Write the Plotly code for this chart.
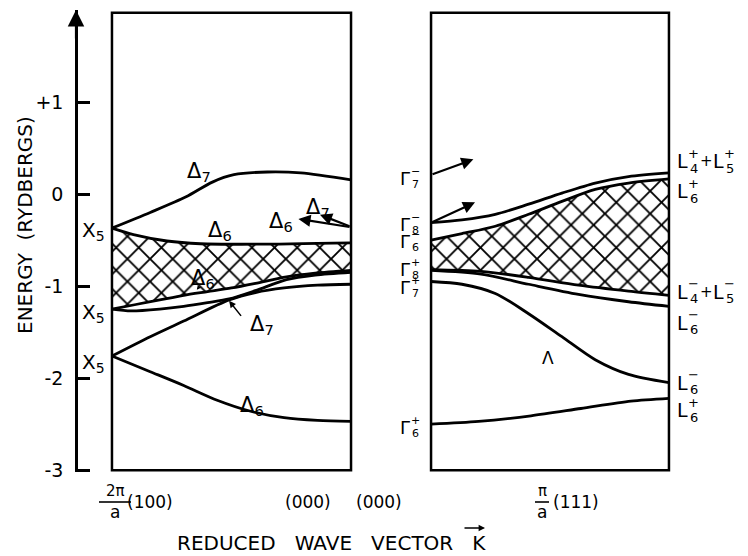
import plotly.graph_objects as go

# ---------------- data (energies in Rydbergs) ----------------
# left panel: k from X (0) to Gamma (1)
k_d7_up = [0, 0.16, 0.31, 0.42, 0.51, 0.65, 0.79, 1.0]
E_d7_up = [-0.37, -0.20, -0.03, 0.13, 0.21, 0.24, 0.23, 0.155]

k_d6_top = [0, 0.09, 0.23, 0.37, 0.6, 1.0]
E_d6_top = [-0.37, -0.44, -0.51, -0.54, -0.545, -0.53]

k_d6_mid = [0, 0.1, 0.2, 0.3, 0.4, 0.5, 0.6, 0.73, 0.85, 1.0]
E_d6_mid = [-1.25, -1.20, -1.15, -1.10, -1.06, -1.02, -0.97, -0.90, -0.86, -0.83]

k_d7_mid = [0, 0.08, 0.2, 0.3, 0.4, 0.49, 0.6, 0.73, 0.85, 1.0]
E_d7_mid = [-1.25, -1.27, -1.25, -1.22, -1.18, -1.14, -1.05, -0.93, -0.88, -0.85]

k_d7_low = [0, 0.16, 0.30, 0.49, 0.6, 0.72, 0.86, 1.0]
E_d7_low = [-1.76, -1.55, -1.38, -1.15, -1.07, -1.02, -0.99, -0.98]

k_d6_low = [0, 0.16, 0.30, 0.44, 0.58, 0.72, 0.86, 1.0]
E_d6_low = [-1.76, -1.93, -2.08, -2.24, -2.36, -2.43, -2.46, -2.47]

# right panel: k from Gamma (0) to L (1)
k_g8m = [0, 0.13, 0.27, 0.41, 0.55, 0.69, 0.83, 1.0]
E_g8m = [-0.31, -0.28, -0.22, -0.11, 0.01, 0.12, 0.19, 0.23]
E_g6m = [-0.50, -0.43, -0.35, -0.22, -0.08, 0.05, 0.12, 0.165]

k_g8p = [0, 0.21, 0.41, 0.62, 0.83, 1.0]
E_g8p_a = [-0.82, -0.84, -0.905, -0.99, -1.055, -1.10]
E_g8p_b = [-0.83, -0.87, -0.98, -1.09, -1.17, -1.22]

k_lam = [0, 0.13, 0.27, 0.41, 0.55, 0.69, 0.83, 1.0]
E_lam = [-0.95, -0.98, -1.08, -1.30, -1.55, -1.80, -1.96, -2.05]

k_g6p = [0, 0.2, 0.42, 0.63, 0.84, 1.0]
E_g6p = [-2.50, -2.47, -2.41, -2.33, -2.25, -2.22]

# arrows for bands leaving the frame (tail k, tail E, head k, head E)
arrows_left = [(1.0, -0.36, 0.78, -0.27), (1.0, -0.355, 0.87, -0.225)]
arrows_right = [(0.0, 0.21, 0.178, 0.377), (0.0, -0.31, 0.185, -0.09)]

y_ticks = [-3, -2, -1, 0, 1]
y_tick_text = ["-3", "-2", "-1", "0", "+1"]

# ---------------- figure ----------------
FONT = "DejaVu Sans"
LW = 2.8
fig = go.Figure()

# page layout helpers (plot area: page x 60..690, page y 10..472; page has 8px body margin)
def px(xp):
    return (xp - 60) / 630.0

def py(yp):
    return (472 - yp) / 462.0

def band(k, E, xa, fill=False):
    kw = dict(x=k, y=E, mode="lines", xaxis=xa, yaxis="y",
              line=dict(color="black", width=LW, shape="spline", smoothing=0.8),
              hoverinfo="skip", showlegend=False)
    if fill:
        kw.update(fill="tonexty",
                  fillpattern=dict(shape="x", size=16, solidity=0.22,
                                   fgcolor="black", bgcolor="white", fillmode="replace"))
    fig.add_trace(go.Scatter(**kw))

# left panel
band(k_d6_mid, E_d6_mid, "x")
band(k_d6_top, E_d6_top, "x", fill=True)
band(k_d7_up, E_d7_up, "x")
band(k_d7_mid, E_d7_mid, "x")
band(k_d7_low, E_d7_low, "x")
band(k_d6_low, E_d6_low, "x")
# right panel
band(k_g8p, E_g8p_a, "x2")
band(k_g8m, E_g6m, "x2", fill=True)
band(k_g8m, E_g8m, "x2")
band(k_g8p, E_g8p_b, "x2")
band(k_lam, E_lam, "x2")
band(k_g6p, E_g6p, "x2")

# panel frames
for xr in ("x", "x2"):
    fig.add_shape(type="rect", xref=xr, yref="y", x0=0, x1=1, y0=-3, y1=1.97,
                  line=dict(color="black", width=2.5), layer="above")

ann = []

def text(xref, x, y, s, size=19, yref="y", **kw):
    d = dict(xref=xref, yref=yref, x=x, y=y, text=s, showarrow=False,
             xanchor="center", yanchor="middle",
             font=dict(family=FONT, size=size, color="black"))
    d.update(kw)
    ann.append(d)

def stacked(xref, x, y, base, sup, sub, xs=0, size=19, small=13, dx=11, dy=7):
    text(xref, x, y, base, size=size, xshift=xs)
    text(xref, x, y, sup, size=small, xshift=xs + dx, yshift=dy + 1)
    text(xref, x, y, sub, size=small, xshift=xs + dx, yshift=-dy)

# band arrows
for (k0, e0, k1, e1) in arrows_left:
    ann.append(dict(xref="x", yref="y", axref="x", ayref="y", x=k1, y=e1, ax=k0, ay=e0,
                    text="", showarrow=True, arrowhead=2, arrowsize=1.1, arrowwidth=2.2,
                    arrowcolor="black"))
for (k0, e0, k1, e1) in arrows_right:
    ann.append(dict(xref="x2", yref="y", axref="x2", ayref="y", x=k1, y=e1, ax=k0, ay=e0,
                    text="", showarrow=True, arrowhead=2, arrowsize=1.1, arrowwidth=2.2,
                    arrowcolor="black"))
# little pointers
ann.append(dict(xref="x", yref="y", axref="x", ayref="y", x=0.49, y=-1.16, ax=0.545, ay=-1.34,
                text="", showarrow=True, arrowhead=2, arrowsize=0.9, arrowwidth=1.5,
                arrowcolor="black"))
ann.append(dict(xref="x", yref="y", axref="x", ayref="y", x=0.355, y=-1.04, ax=0.37, ay=-0.99,
                text="", showarrow=True, arrowhead=2, arrowsize=0.7, arrowwidth=1.2,
                arrowcolor="black"))

# left-panel labels
DS = 21
text("x", 0.364, 0.24, "Δ<sub>7</sub>", size=DS)
text("x", 0.452, -0.40, "Δ<sub>6</sub>", size=DS)
text("x", 0.707, -0.30, "Δ<sub>6</sub>", size=DS)
text("x", 0.862, -0.15, "Δ<sub>7</sub>", size=DS)
text("x", 0.381, -0.92, "Δ<sub>6</sub>", size=DS)
text("x", 0.628, -1.42, "Δ<sub>7</sub>", size=DS)
text("x", 0.586, -2.30, "Δ<sub>6</sub>", size=DS)
for e in (-0.40, -1.29, -1.84):
    text("x", 0, e, "X<sub>5</sub>", size=20, xshift=-18)

# right-panel labels: Gamma side
for e, sg, n in [(0.174, "−", "7"), (-0.336, "−", "8"), (-0.52, "−", "6"),
                 (-0.825, "+", "8"), (-1.01, "+", "7"), (-2.54, "+", "6")]:
    stacked("x2", 0, e, "Γ", sg, n, xs=-26, size=18, small=11, dx=10, dy=6)

# L side
def lpair(e, s1, n1, s2, n2):
    stacked("x2", 1.0, e, "L", s1, n1, xs=14)
    text("x2", 1.0, e, "+", size=15, xshift=38)
    stacked("x2", 1.0, e, "L", s2, n2, xs=50)

lpair(0.354, "+", "4", "+", "5")
stacked("x2", 1.0, 0.033, "L", "+", "6", xs=14)
lpair(-1.06, "−", "4", "−", "5")
stacked("x2", 1.0, -1.40, "L", "−", "6", xs=14)
stacked("x2", 1.0, -2.05, "L", "−", "6", xs=14)
stacked("x2", 1.0, -2.35, "L", "+", "6", xs=14)
text("x2", 0.49, -1.78, "Λ", size=17)

# k-point labels under the panels
text("paper", px(115), py(491), "2π", size=15, yref="paper")
text("paper", px(115), py(512), "a", size=17, yref="paper")
text("paper", px(150), py(502), "(100)", size=17, yref="paper")
text("paper", px(307.5), py(502), "(000)", size=17, yref="paper")
text("paper", px(379), py(502), "(000)", size=17, yref="paper")
text("paper", px(542), py(491), "π", size=15, yref="paper")
text("paper", px(542), py(512), "a", size=17, yref="paper")
text("paper", px(576), py(502), "(111)", size=17, yref="paper")

# axis titles
text("paper", px(25), py(225), "ENERGY\u00a0\u00a0(RYDBERGS)", size=20, yref="paper", textangle=-90)
text("paper", px(331), py(543), "REDUCED\u00a0\u00a0 WAVE\u00a0\u00a0 VECTOR\u00a0\u00a0 K", size=20,
     yref="paper")
# vector arrow over K
ann.append(dict(xref="paper", yref="paper", x=px(485), y=py(528), ax=-22, ay=0, text="",
                showarrow=True, arrowhead=2, arrowsize=0.8, arrowwidth=1.6, arrowcolor="black"))
# arrow on top of the energy axis
ann.append(dict(xref="paper", yref="y", x=px(76), y=2.0, ax=0, ay=30, text="",
                showarrow=True, arrowhead=2, arrowsize=1.5, arrowwidth=2.2, arrowcolor="black"))

# fraction bars
fig.add_shape(type="line", xref="paper", yref="paper", x0=px(99), x1=px(131), y0=py(502), y1=py(502),
              line=dict(color="black", width=1.6))
fig.add_shape(type="line", xref="paper", yref="paper", x0=px(535), x1=px(549), y0=py(502), y1=py(502),
              line=dict(color="black", width=1.6))

fig.update_layout(
    width=740, height=548,
    margin=dict(l=52, r=58, t=2, b=84),
    paper_bgcolor="white", plot_bgcolor="white",
    showlegend=False,
    font=dict(family=FONT, color="black"),
    annotations=ann,
    xaxis=dict(domain=[px(104.8), px(358.2)], range=[-0.03, 1.03], visible=False, anchor="y"),
    xaxis2=dict(domain=[px(423.9), px(676.1)], range=[-0.03, 1.03], visible=False, anchor="y"),
    yaxis=dict(domain=[0, 1], range=[-3.02, 2.0], anchor="free", position=px(76),
               showline=True, linewidth=2.5, linecolor="black",
               ticks="inside", ticklen=12, tickwidth=2.5, tickcolor="black",
               tickvals=y_ticks, ticktext=y_tick_text,
               tickfont=dict(family=FONT, size=19, color="black"),
               ticklabelstandoff=8,
               showgrid=False, zeroline=False),
)

fig.write_html("out.html")
